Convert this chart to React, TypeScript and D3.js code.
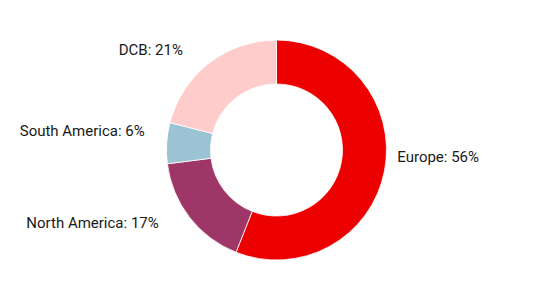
import React from "react";
import * as d3 from "d3";

const categories = ["Europe", "North America", "South America", "DCB"];
const values = [56, 17, 6, 21];
const colors = ["#EC0000", "#9E3667", "#9BC3D3", "#FFCCCC"];
const labelNudgeX = [-2, -19, -7, -17];
const labelNudgeY = [-17, -4, -11, -1];

const W = 552;
const H = 300;
const cx = 276.5;
const cy = 150;
const outerR = 110;
const innerR = 66;
const labelR = 125;

export default function App() {
  const pie = d3.pie<number>().sort(null).value((d) => d);
  const arcs = pie(values);
  const arc = d3.arc<d3.PieArcDatum<number>>().innerRadius(innerR).outerRadius(outerR);
  const labelArc = d3.arc<d3.PieArcDatum<number>>().innerRadius(labelR).outerRadius(labelR);
  return (
    <svg width={W} height={H} style={{ position: "absolute", left: 0, top: 0, background: "#fff" }}>
      <g transform={`translate(${cx},${cy})`}>
        {arcs.map((a, i) => (
          <path key={i} d={arc(a) || ""} fill={colors[i]} stroke="#ffffff" strokeWidth={0.8} />
        ))}
        {arcs.map((a, i) => {
          const [x, y] = labelArc.centroid(a);
          const mid = (a.startAngle + a.endAngle) / 2;
          const right = mid < Math.PI;
          return (
            <text
              key={i}
              x={x + labelNudgeX[i]}
              y={y + labelNudgeY[i]}
              dy="0.35em"
              textAnchor={right ? "start" : "end"}
              fontFamily="Roboto, sans-serif"
              fontSize={15}
              fill="#1a1a1a"
            >
              {`${categories[i]}: ${values[i]}%`}
            </text>
          );
        })}
      </g>
    </svg>
  );
}
